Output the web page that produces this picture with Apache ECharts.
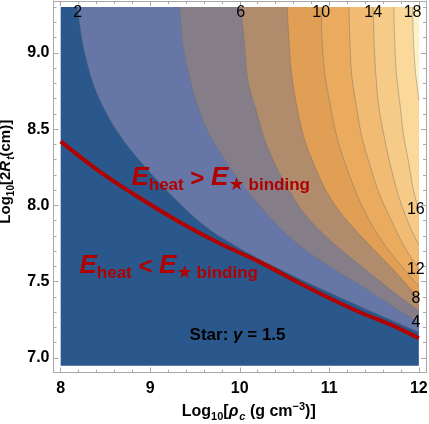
<!DOCTYPE html>
<html>
<head>
<meta charset="utf-8">
<script src="https://cdn.jsdelivr.net/npm/echarts@6/dist/echarts.min.js"></script>
<style>
  html, body { margin: 0; padding: 0; background: #fff; }
  #chart { width: 429px; height: 424px; }
</style>
</head>
<body>
<div id="chart"></div>
<script>
// plot domain (log10 rho_c, log10 2R_t)
const xDomain = [8, 12]
const yDomain = [6.95, 9.3]

// contour levels and their lines, top edge -> right edge
const levels = [2, 4, 6, 8, 10, 12, 14, 16, 18]
const contour2 = [[8.19, 9.30], [8.27, 9.00], [8.44, 8.69], [8.79, 8.36], [9.48, 7.93], [10.03, 7.71], [10.67, 7.52], [11.34, 7.34], [12.00, 7.17]]
const contour4 = [[9.33, 9.30], [9.36, 9.08], [9.42, 8.89], [9.51, 8.69], [9.64, 8.49], [9.89, 8.25], [10.19, 8.02], [10.56, 7.79], [10.95, 7.62], [11.34, 7.48], [11.68, 7.35], [12.00, 7.23]]
const contour6 = [[10.01, 9.30], [10.05, 9.08], [10.09, 8.82], [10.18, 8.63], [10.28, 8.43], [10.41, 8.25], [10.56, 8.09], [10.73, 7.94], [11.01, 7.77], [11.34, 7.61], [11.68, 7.45], [12.00, 7.31]]
const contour8 = [[10.53, 9.30], [10.55, 9.08], [10.58, 8.86], [10.64, 8.64], [10.72, 8.44], [10.83, 8.27], [10.98, 8.08], [11.17, 7.92], [11.45, 7.74], [11.73, 7.57], [12.00, 7.39]]
const contour10 = [[10.91, 9.30], [10.92, 9.08], [10.95, 8.86], [11.01, 8.66], [11.08, 8.46], [11.18, 8.27], [11.31, 8.07], [11.44, 7.91], [11.62, 7.74], [11.81, 7.60], [12.00, 7.47]]
const contour12 = [[11.22, 9.30], [11.23, 9.08], [11.25, 8.86], [11.30, 8.66], [11.36, 8.46], [11.45, 8.27], [11.55, 8.09], [11.67, 7.93], [11.82, 7.75], [12.00, 7.58]]
const contour14 = [[11.49, 9.30], [11.50, 9.08], [11.52, 8.86], [11.55, 8.66], [11.61, 8.46], [11.68, 8.27], [11.77, 8.07], [11.88, 7.89], [12.00, 7.74]]
const contour16 = [[11.72, 9.30], [11.73, 9.08], [11.75, 8.86], [11.79, 8.66], [11.83, 8.46], [11.89, 8.27], [11.94, 8.10], [12.00, 7.97]]
const contour18 = [[11.93, 9.30], [11.94, 9.08], [11.96, 8.89], [11.98, 8.79], [12.00, 8.69]]

// E_heat = E_binding boundary
const redLine = [[8.00, 8.42], [8.44, 8.22], [8.88, 8.05], [9.33, 7.89], [9.78, 7.75], [10.22, 7.63], [10.67, 7.49], [11.01, 7.39], [11.34, 7.30], [11.68, 7.22], [12.00, 7.13]]

// ticks and contour labels
const xTickLabels = [8, 9, 10, 11, 12]
const yTickLabels = [7.0, 7.5, 8.0, 8.5, 9.0]
const topLabels = [2, 6, 10, 14, 18]
const rightLabels = [4, 8, 12, 16]

const contours = [contour2, contour4, contour6, contour8, contour10, contour12, contour14, contour16, contour18]

// band colours, lowest band first
const bandColors = ['#2b588c', '#6676a6', '#857e88', '#b08b6c', '#e09f55', '#eaab5f', '#f1bb73', '#f6ca87', '#fbd99b', '#fff1c6']
const frameColor = '#a8a8a8'
const red = '#b00000'
const font = "'Liberation Sans', Arial, sans-serif"

// minor tick positions
let xMinor = []
for (let i = 40; i <= 60; i++) if (i % 5 !== 0) xMinor.push(i / 5)
let yMinor = []
for (let i = 70; i <= 93; i++) if (i % 5 !== 0) yMinor.push(i / 10)

const xMin = 7.92, xMax = 12.08
const yMin = 6.905, yMax = 9.34

// catmull-rom through pixel points, only for drawing a smooth outline
function smoothPixels(pts) {
    let out = [pts[0]]
    for (let i = 0; i < pts.length - 1; i++) {
        const p0 = pts[Math.max(i - 1, 0)], p1 = pts[i], p2 = pts[i + 1], p3 = pts[Math.min(i + 2, pts.length - 1)]
        for (let t = 1; t <= 8; t++) {
            const s = t / 8
            out.push([0, 1].map(k => 0.5 * (2 * p1[k] + (-p0[k] + p2[k]) * s +
                (2 * p0[k] - 5 * p1[k] + 4 * p2[k] - p3[k]) * s * s +
                (-p0[k] + 3 * p1[k] - 3 * p2[k] + p3[k]) * s * s * s)))
        }
    }
    return out
}

function frameX(position, ticks, len, main) {
    return {
        type: 'value', position: position, min: xMin, max: xMax,
        axisLine: { show: main, onZero: false, lineStyle: { color: frameColor, width: 1 } },
        axisTick: { show: true, inside: true, length: len, customValues: ticks, lineStyle: { color: frameColor } },
        axisLabel: { show: false },
        splitLine: { show: false }
    }
}
function frameY(position, ticks, len, main) {
    return {
        type: 'value', position: position, min: yMin, max: yMax,
        axisLine: { show: main, onZero: false, lineStyle: { color: frameColor, width: 1 } },
        axisTick: { show: true, inside: true, length: len, customValues: ticks, lineStyle: { color: frameColor } },
        axisLabel: { show: false },
        splitLine: { show: false }
    }
}

function nameRich(size, sub) {
    const base = { fontWeight: 'bold', color: '#000', fontFamily: font }
    return {
        t: Object.assign({ fontSize: size, lineHeight: size + 5, verticalAlign: 'bottom', padding: [0, 0, 3, 0] }, base),
        i: Object.assign({ fontSize: size, fontStyle: 'italic', lineHeight: size + 5, verticalAlign: 'bottom', padding: [0, 1, 3, 0] }, base),
        s: Object.assign({ fontSize: sub, lineHeight: sub + 2, verticalAlign: 'bottom' }, base),
        si: Object.assign({ fontSize: sub, fontStyle: 'italic', lineHeight: sub + 2, verticalAlign: 'bottom' }, base),
        p: Object.assign({ fontSize: sub, lineHeight: sub + 2, verticalAlign: 'top' }, base)
    }
}

let xBottom = frameX('bottom', xTickLabels, 5, true)
xBottom.axisLabel = {
    show: true, customValues: xTickLabels, margin: 8,
    color: '#000', fontSize: 16, fontWeight: 'bold', fontFamily: font
}
xBottom.name = '{t|Log}{s|10}{t|[}{i|ρ}{si|c}{t| (g cm}{p|−3}{t|)]}'
xBottom.nameLocation = 'middle'
xBottom.nameGap = 25
xBottom.nameTextStyle = { color: '#000', fontFamily: font, padding: [0, 0, 0, 18], rich: nameRich(16, 11) }

let yLeft = frameY('left', yTickLabels, 5, true)
yLeft.axisLabel = {
    show: true, customValues: yTickLabels, margin: 4,
    color: '#000', fontSize: 16, fontWeight: 'bold', fontFamily: font,
    formatter: function (v) { return v.toFixed(1) }
}
yLeft.name = '{t|Log}{s|10}{t|[2}{i|R}{si|t}{t|(cm)]}'
yLeft.nameLocation = 'middle'
yLeft.nameRotate = 90
yLeft.nameGap = 34
yLeft.nameTextStyle = { color: '#000', fontFamily: font, padding: [0, 0, 0, 30], rich: nameRich(15, 10) }

const option = {
    animation: false,
    backgroundColor: '#fff',
    grid: { left: 53.5, right: 3, top: 1, bottom: 51.5, containLabel: false, outerBoundsMode: 'none' },
    xAxis: [
        xBottom,
        frameX('bottom', xMinor, 3, false),
        frameX('top', xTickLabels, 5, true),
        frameX('top', xMinor, 3, false)
    ],
    yAxis: [
        yLeft,
        frameY('left', yMinor, 3, false),
        frameY('right', yTickLabels, 5, true),
        frameY('right', yMinor, 3, false)
    ],
    series: [
        {
            // lowest band: the whole plot range
            type: 'custom', z: 1, silent: true,
            data: [[xDomain[0], yDomain[0]]],
            renderItem: function (params, api) {
                const a = api.coord([xDomain[0], yDomain[1]])
                const b = api.coord([xDomain[1], yDomain[0]])
                return {
                    type: 'rect',
                    shape: { x: a[0], y: a[1], width: b[0] - a[0], height: b[1] - a[1] },
                    style: { fill: bandColors[0] }
                }
            }
        },
        {
            // one filled band per contour level, plus its line
            type: 'custom', z: 2, silent: true,
            data: levels.map((lv, i) => [contours[i][0][0], contours[i][0][1], lv]),
            renderItem: function (params, api) {
                const i = params.dataIndex
                const pts = smoothPixels(contours[i].map(p => api.coord(p)))
                const poly = pts.concat([api.coord([xDomain[1], yDomain[1]])])
                return {
                    type: 'group',
                    children: [
                        { type: 'polygon', shape: { points: poly }, style: { fill: bandColors[i + 1] } },
                        { type: 'polyline', shape: { points: pts }, style: { stroke: 'rgba(110,110,110,0.55)', lineWidth: 0.8, fill: null } }
                    ]
                }
            }
        },
        {
            type: 'line', z: 3, silent: true,
            data: redLine, smooth: 0.3, showSymbol: false, symbol: 'none',
            lineStyle: { color: red, width: 4 }
        },
        {
            // contour labels at the top and right edges
            type: 'custom', z: 4, silent: true,
            data: topLabels.map(v => [0, 0, v, 0]).concat(rightLabels.map(v => [0, 0, v, 1])),
            renderItem: function (params, api) {
                const lv = api.value(2)
                const side = api.value(3)
                const c = contours[levels.indexOf(lv)]
                const p = api.coord(side === 0 ? c[0] : c[c.length - 1])
                return {
                    type: 'text',
                    x: side === 0 ? p[0] : p[0] - 3,
                    y: side === 0 ? p[1] + 5 : p[1],
                    style: {
                        text: String(lv), fill: '#000', fontSize: 16, fontFamily: font,
                        align: 'center', verticalAlign: 'middle'
                    }
                }
            }
        },
        {
            // annotations
            type: 'custom', z: 5, silent: true,
            data: [[8.79, 8.166, 0], [8.21, 7.59, 1], [9.44, 7.15, 2]],
            renderItem: function (params, api) {
                const p = api.coord([api.value(0), api.value(1)])
                const k = api.value(2)
                const rich = {
                    e: { fontSize: 26, fontWeight: 'bold', fontStyle: 'italic', fill: red, fontFamily: font, lineHeight: 28, verticalAlign: 'bottom', padding: [0, 0, 3, 0] },
                    o: { fontSize: 24, fontWeight: 'bold', fill: red, fontFamily: font, lineHeight: 28, verticalAlign: 'bottom', padding: [0, 0, 3, 0] },
                    s: { fontSize: 17, fontWeight: 'bold', fill: red, fontFamily: font, lineHeight: 19, verticalAlign: 'bottom' },
                    st: { fontSize: 18, fontWeight: 'bold', fill: red, fontFamily: "'DejaVu Sans', sans-serif", lineHeight: 19, verticalAlign: 'bottom', padding: [0, 4, 0, 0] },
                    k: { fontSize: 17, fontWeight: 'bold', fill: '#000', fontFamily: font },
                    g: { fontSize: 17, fontWeight: 'bold', fontStyle: 'italic', fill: '#000', fontFamily: font }
                }
                const texts = [
                    '{e|E}{s|heat}{o| > }{e|E}{st|★}{s|binding}',
                    '{e|E}{s|heat}{o| < }{e|E}{st|★}{s|binding}',
                    '{k|Star: }{g|γ}{k| = 1.5}'
                ]
                return {
                    type: 'text', x: p[0], y: p[1],
                    style: { text: texts[k], rich: rich, align: 'left', verticalAlign: 'middle' }
                }
            }
        }
    ]
}

const chart = echarts.init(document.getElementById('chart'))
chart.setOption(option)
</script>
</body>
</html>
